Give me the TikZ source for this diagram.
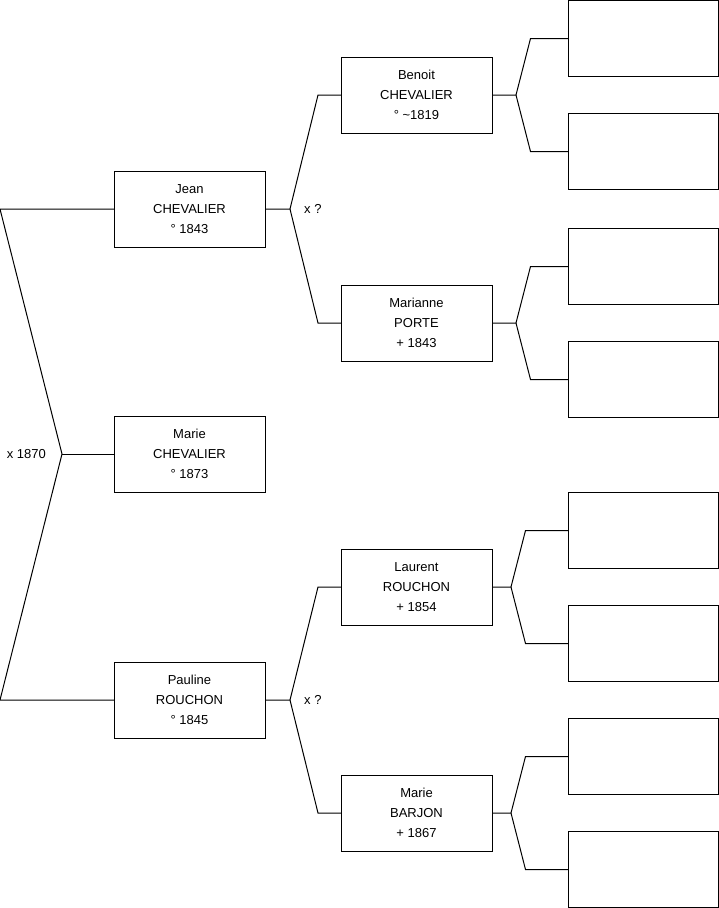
\documentclass[tikz,border=0pt]{standalone}
\usepackage{fontspec}
\setmainfont{Liberation Sans}
\usepackage{tikz}
\usetikzlibrary{positioning}

\begin{document}
\begin{tikzpicture}[
  x=1pt, y=1pt,
  person/.style={draw, line width=1pt, outer sep=0pt, fill=white,
                 minimum width=151pt, minimum height=76pt,
                 font=\fontsize{13}{20}\selectfont, text centered, align=center},
  blank/.style={person, minimum width=150pt},
  link/.style={line width=1pt, color=black},
  tag/.style={font=\fontsize{13}{16}\selectfont, inner sep=0pt}
]
  \useasboundingbox (0,1) rectangle (719,-907);

  % generation 1 and 2
  \node[person] at (189.5,-453) (marie) {Marie\\CHEVALIER\\\textdegree{} 1873};
  \node[person, above=169pt of marie] (jean) {Jean\\CHEVALIER\\\textdegree{} 1843};
  \node[person, below=170pt of marie] (pauline) {Pauline\\ROUCHON\\\textdegree{} 1845};

  % generation 3
  \node[person, above right=38pt and 76pt of jean] (benoit) {Benoit\\CHEVALIER\\\textdegree{} \textasciitilde1819};
  \node[person, below right=38pt and 76pt of jean] (marianne) {Marianne\\PORTE\\+ 1843};
  \node[person, above right=37pt and 76pt of pauline] (laurent) {Laurent\\ROUCHON\\+ 1854};
  \node[person, below right=37pt and 76pt of pauline] (barjon) {Marie\\BARJON\\+ 1867};

  % generation 4 (unknown)
  \node[blank, right=76pt of benoit, yshift=56.5pt] (benoit-p) {};
  \node[blank, right=76pt of benoit, yshift=-56.5pt] (benoit-m) {};
  \node[blank, right=76pt of marianne, yshift=56.5pt] (marianne-p) {};
  \node[blank, right=76pt of marianne, yshift=-56.5pt] (marianne-m) {};
  \node[blank, right=76pt of laurent, yshift=56.5pt] (laurent-p) {};
  \node[blank, right=76pt of laurent, yshift=-56.5pt] (laurent-m) {};
  \node[blank, right=76pt of barjon, yshift=56.5pt] (barjon-p) {};
  \node[blank, right=76pt of barjon, yshift=-56.5pt] (barjon-m) {};

  % parents of Marie
  \coordinate (mx) at ([xshift=-52pt]marie.west);
  \draw[link] (jean.west) -- ++(-114,0) -- (mx) -- ([xshift=-114pt]pauline.west) -- (pauline.west);
  \draw[link] (mx) -- (marie.west);
  \node[tag, anchor=east] (mx-tag) at ([xshift=-16pt]mx) {x 1870};

  % parents of Jean and Pauline
  \draw[link] (jean.east) -- ++(25,0) coordinate (jx) -- ([xshift=-23pt]benoit.west) -- (benoit.west);
  \draw[link] (jx) -- ([xshift=-23pt]marianne.west) -- (marianne.west);
  \node[tag, anchor=west] (jx-tag) at ([xshift=14pt]jx) {x ?};
  \draw[link] (pauline.east) -- ++(25,0) coordinate (px) -- ([xshift=-23pt]laurent.west) -- (laurent.west);
  \draw[link] (px) -- ([xshift=-23pt]barjon.west) -- (barjon.west);
  \node[tag, anchor=west] (px-tag) at ([xshift=14pt]px) {x ?};

  % parents of generation 3
  \draw[link] (benoit.east) -- ++(24,0) coordinate (bx) -- ([xshift=-37.5pt]benoit-p.west) -- (benoit-p.west);
  \draw[link] (bx) -- ([xshift=-37.5pt]benoit-m.west) -- (benoit-m.west);
  \draw[link] (marianne.east) -- ++(24,0) coordinate (ax) -- ([xshift=-37.5pt]marianne-p.west) -- (marianne-p.west);
  \draw[link] (ax) -- ([xshift=-37.5pt]marianne-m.west) -- (marianne-m.west);
  \draw[link] (laurent.east) -- ++(19,0) coordinate (lx) -- ([xshift=-42.5pt]laurent-p.west) -- (laurent-p.west);
  \draw[link] (lx) -- ([xshift=-42.5pt]laurent-m.west) -- (laurent-m.west);
  \draw[link] (barjon.east) -- ++(19,0) coordinate (rx) -- ([xshift=-42.5pt]barjon-p.west) -- (barjon-p.west);
  \draw[link] (rx) -- ([xshift=-42.5pt]barjon-m.west) -- (barjon-m.west);
\end{tikzpicture}
\end{document}
